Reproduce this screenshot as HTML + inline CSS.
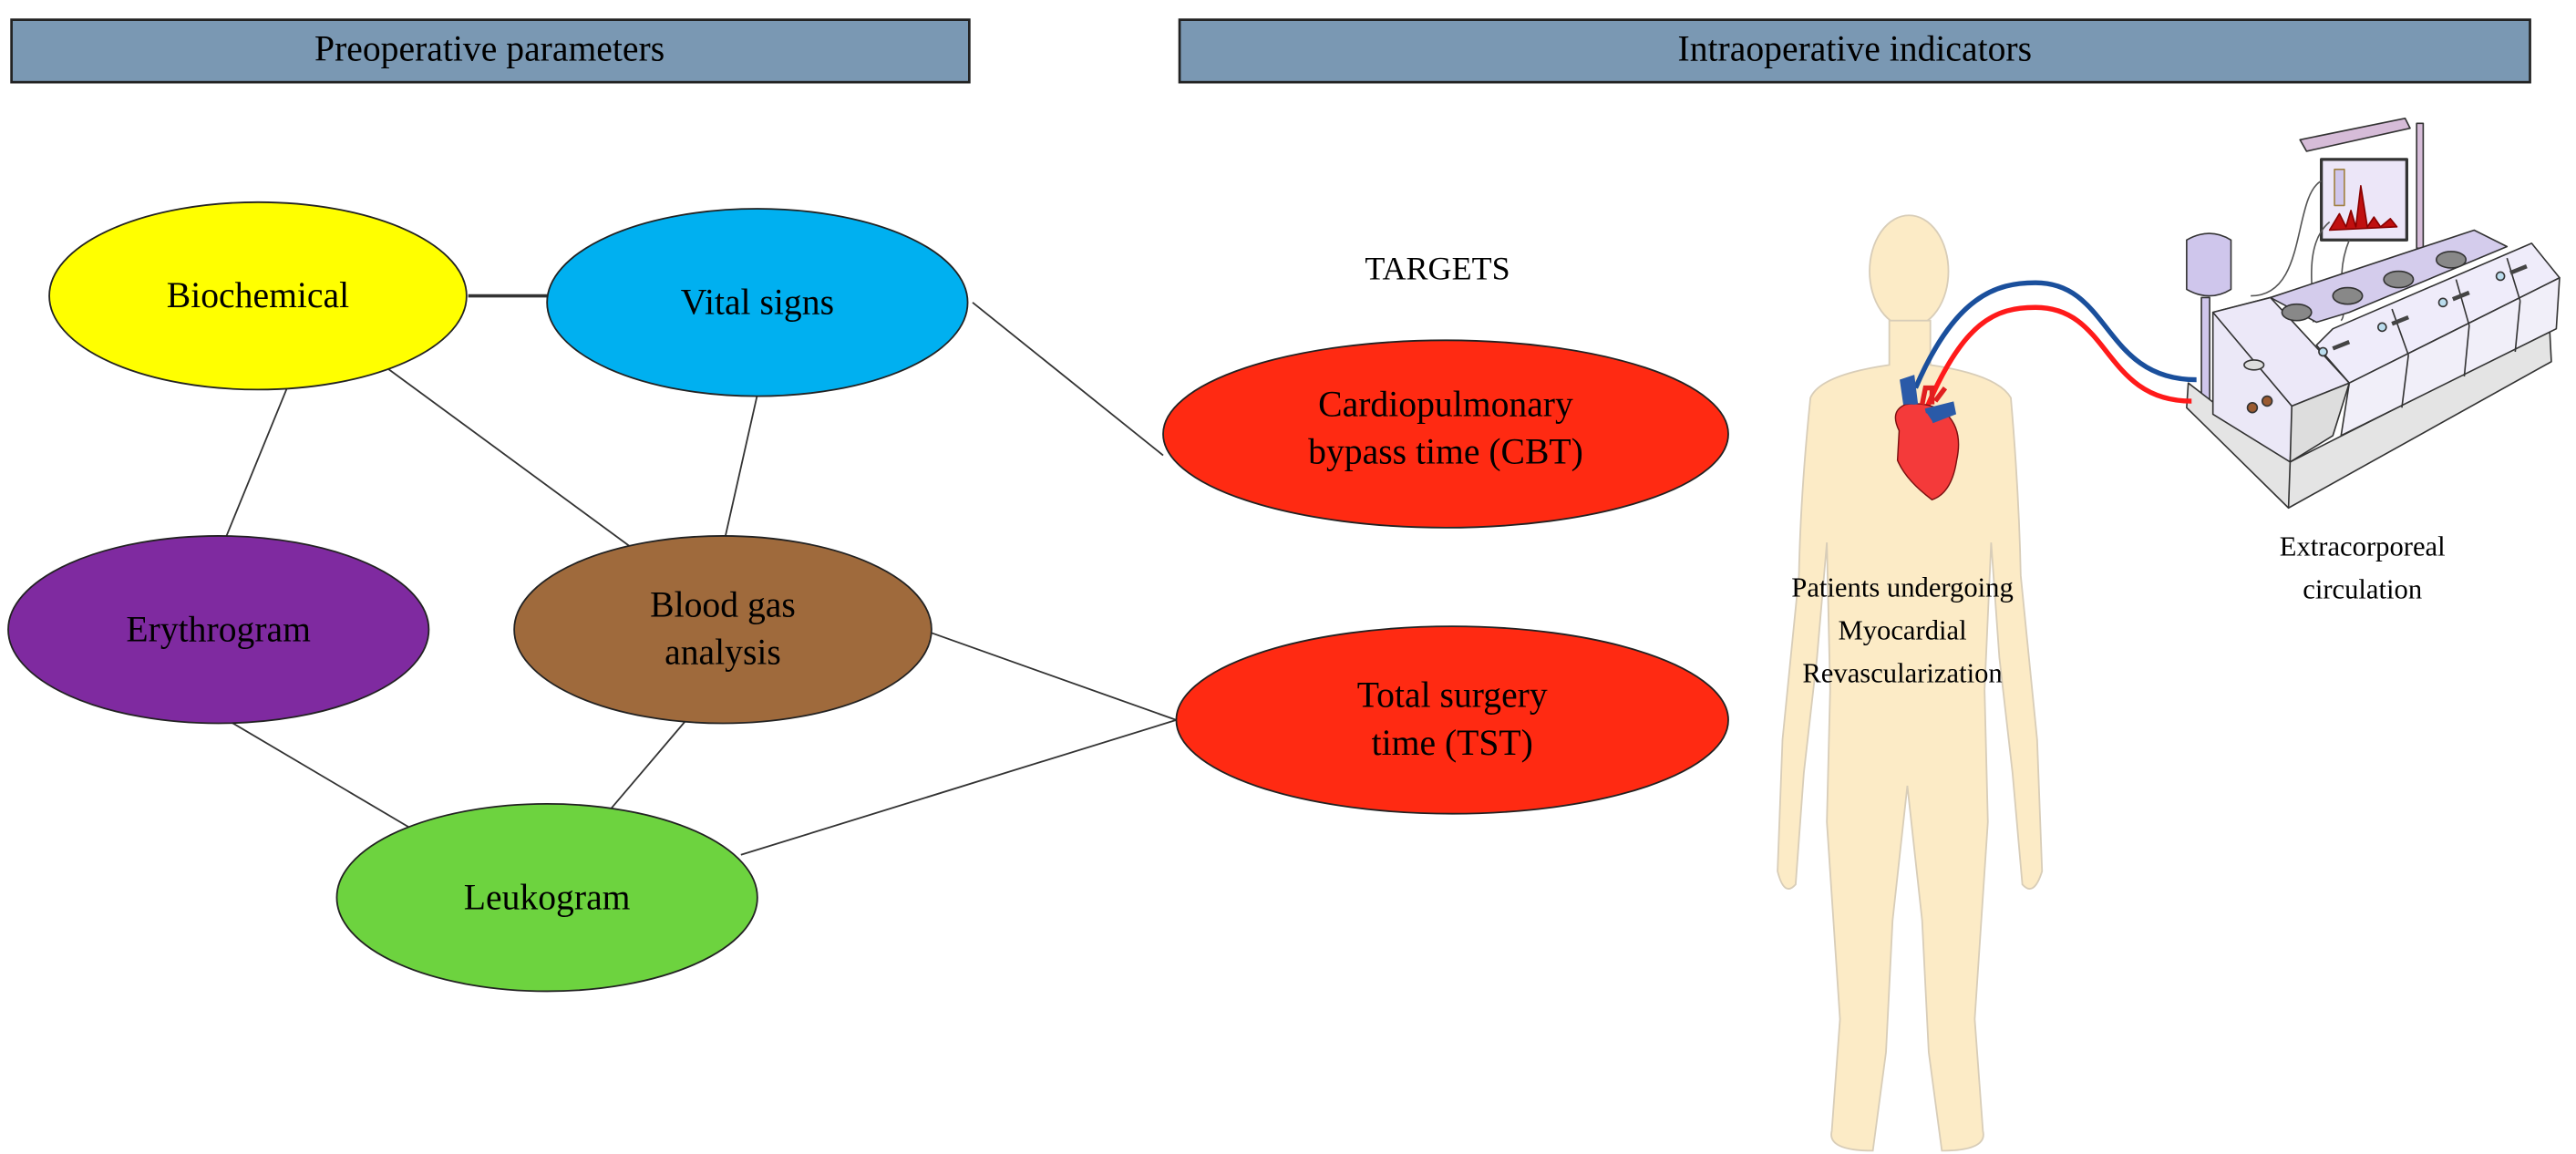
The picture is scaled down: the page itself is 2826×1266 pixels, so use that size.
<!DOCTYPE html>
<html><head><meta charset="utf-8"><style>
html,body{margin:0;padding:0;background:#fff;}
svg{display:block;}
text{font-family:"Liberation Serif",serif;fill:#000;}
</style></head><body>
<svg width="2826" height="1266" viewBox="0 0 1568 702" preserveAspectRatio="none" xmlns="http://www.w3.org/2000/svg">
<rect x="7" y="12" width="583" height="38" fill="#7a98b3" stroke="#222" stroke-width="1.5"/>
<rect x="718" y="12" width="822" height="38" fill="#7a98b3" stroke="#222" stroke-width="1.5"/>
<text x="298" y="37" font-size="22" text-anchor="middle">Preoperative parameters</text>
<text x="1129" y="37" font-size="22" text-anchor="middle">Intraoperative indicators</text>
<g stroke="#333" stroke-width="1" fill="none">
<line x1="285" y1="180" x2="333" y2="180" stroke-width="2"/>
<line x1="178" y1="228" x2="135" y2="333"/>
<line x1="233" y1="222" x2="387" y2="335"/>
<line x1="461" y1="240" x2="440" y2="333"/>
<line x1="592" y1="184" x2="708" y2="277"/>
<line x1="567" y1="385" x2="716" y2="438"/>
<line x1="135" y1="436" x2="252" y2="505"/>
<line x1="422" y1="433" x2="371" y2="493"/>
<line x1="451" y1="520" x2="716" y2="438"/>
</g>
<g stroke="#222" stroke-width="1">
<ellipse cx="157" cy="180" rx="127" ry="57" fill="#ffff00"/>
<ellipse cx="461" cy="184" rx="128" ry="57" fill="#00b0f0"/>
<ellipse cx="133" cy="383" rx="128" ry="57" fill="#7f2aa0"/>
<ellipse cx="440" cy="383" rx="127" ry="57" fill="#9f6a3c"/>
<ellipse cx="333" cy="546" rx="128" ry="57" fill="#6dd33f"/>
<ellipse cx="880" cy="264" rx="172" ry="57" fill="#ff2a12"/>
<ellipse cx="884" cy="438" rx="168" ry="57" fill="#ff2a12"/>
</g>
<g font-size="22" text-anchor="middle">
<text x="157" y="187">Biochemical</text>
<text x="461" y="191">Vital signs</text>
<text x="133" y="390">Erythrogram</text>
<text x="440" y="375">Blood gas</text>
<text x="440" y="404">analysis</text>
<text x="333" y="553">Leukogram</text>
<text x="880" y="253">Cardiopulmonary</text>
<text x="880" y="282">bypass time (CBT)</text>
<text x="884" y="430">Total surgery</text>
<text x="884" y="459">time (TST)</text>
<text x="875" y="170" font-size="20">TARGETS</text>
</g>
<g fill="#fcebc6" stroke="#d8cdb8" stroke-width="1">
<ellipse cx="1162" cy="165" rx="24" ry="34"/>
<path d="M1150,195 L1150,222 Q1108,228 1102,242 Q1096,300 1095,350 L1085,450 L1082,530 Q1086,546 1093,538 L1098,470 L1106,400 L1112,330 L1114,420 L1112,500 L1120,620 L1115,688 Q1112,700 1140,700 L1148,640 L1152,560 L1161,478 L1170,560 L1174,640 L1182,700 Q1210,700 1207,688 L1202,620 L1210,500 L1208,420 L1212,330 L1217,400 L1225,470 L1231,538 Q1238,546 1243,530 L1240,450 L1230,350 Q1229,300 1224,242 Q1216,228 1175,222 L1175,195 Z"/>
</g>
<!-- machine -->
<g stroke="#333" stroke-width="0.9" stroke-linejoin="round">
<polygon points="1400,85 1464,72 1467,78 1404,92" fill="#d6bcd8"/>
<rect x="1471" y="75" width="4" height="76" fill="#d6bcd8"/>
<rect x="1413" y="97" width="52" height="49" fill="#ece6f8" stroke-width="1.8"/>
<rect x="1421" y="103" width="6" height="22" fill="#cfc6ec" stroke="#a08040"/>
<path d="M1418,140 L1424,130 L1428,138 L1431,128 L1434,138 L1437,113 L1441,138 L1445,132 L1449,138 L1455,133 L1459,138 Z" fill="#c01010" stroke="#800"/>
<path d="M1413,110 C1395,120 1405,180 1370,180 M1418,135 C1400,150 1410,185 1408,196 M1430,146 C1420,170 1430,190 1425,195" fill="none" stroke="#555"/>
<path d="M1331,146 Q1345,138 1358,146 L1358,176 Q1345,184 1331,176 Z" fill="#cfc6ec"/>
<rect x="1340" y="181" width="5" height="65" fill="#cfc6ec"/>
<!-- base -->
<polygon points="1332,233 1394,281 1552,201 1553,220 1393,309 1331,248" fill="#e4e4e4"/>
<line x1="1394" y1="281" x2="1393" y2="309"/>
<!-- lavender strip -->
<polygon points="1382,181 1506,140 1526,150 1430,190 1410,196" fill="#d4ccec"/>
<!-- left housing -->
<polygon points="1347,190 1382,181 1420,232 1395,264 1394,281 1347,252" fill="#ebe8f7"/>
<polygon points="1347,190 1382,181 1430,233 1395,247" fill="#ece8f8"/>
<polygon points="1395,247 1430,233 1420,265 1394,281" fill="#ddd"/>
<!-- modules -->
<polygon points="1420,200 1541,148 1558,169 1430,233 1410,210" fill="#efecfa"/>
<polygon points="1430,233 1558,169 1556,200 1425,265" fill="#f1eff9"/>
<line x1="1456" y1="188" x2="1466" y2="216"/><line x1="1466" y1="216" x2="1462" y2="248"/>
<line x1="1495" y1="170" x2="1503" y2="198"/><line x1="1503" y1="198" x2="1500" y2="229"/>
<line x1="1526" y1="157" x2="1534" y2="183"/><line x1="1534" y1="183" x2="1531" y2="214"/>
<g fill="#888"><ellipse cx="1398" cy="190" rx="9" ry="5"/><ellipse cx="1429" cy="180" rx="9" ry="5"/><ellipse cx="1460" cy="170" rx="9" ry="5"/><ellipse cx="1492" cy="158" rx="9" ry="5"/></g>
<g fill="#bde"><circle cx="1414" cy="214" r="2.5"/><circle cx="1450" cy="199" r="2.5"/><circle cx="1487" cy="184" r="2.5"/><circle cx="1522" cy="168" r="2.5"/></g>
<g stroke="#444" stroke-width="2.5"><line x1="1420" y1="212" x2="1430" y2="208"/><line x1="1456" y1="197" x2="1466" y2="193"/><line x1="1493" y1="182" x2="1503" y2="178"/><line x1="1528" y1="166" x2="1538" y2="162"/></g>
<circle cx="1371" cy="248" r="3" fill="#9a5a30"/><circle cx="1380" cy="244" r="3" fill="#9a5a30"/>
<ellipse cx="1372" cy="222" rx="6" ry="3" fill="#ddd"/>
</g>
<!-- tubes -->
<path d="M1166,236 C1190,180 1215,172 1239,172 C1285,172 1280,231 1337,231" stroke="#1a4f9c" stroke-width="3" fill="none"/>
<path d="M1172,250 C1195,195 1215,187 1239,187 C1285,187 1280,244 1334,244" stroke="#ff1a1a" stroke-width="3" fill="none"/>
<path d="M1156,262 Q1150,250 1160,246 Q1175,244 1185,252 Q1195,262 1191,280 Q1188,300 1176,304 Q1160,292 1155,280 Z" fill="#f43a3a" stroke="#7a1010" stroke-width="0.8"/>
<path d="M1160,246 L1158,232 L1164,230 L1166,246 M1172,250 L1188,246 L1189,251 L1176,256" fill="#2a5aa8" stroke="#2a5aa8" stroke-width="3"/>
<path d="M1170,246 L1172,236 L1176,236 L1176,246 M1178,244 L1184,236" stroke="#e02020" stroke-width="3" fill="none"/>
<g font-size="17" text-anchor="middle">
<text x="1158" y="363">Patients undergoing</text>
<text x="1158" y="389">Myocardial</text>
<text x="1158" y="415">Revascularization</text>
<text x="1438" y="338">Extracorporeal</text>
<text x="1438" y="364">circulation</text>
</g>
</svg>
</body></html>
